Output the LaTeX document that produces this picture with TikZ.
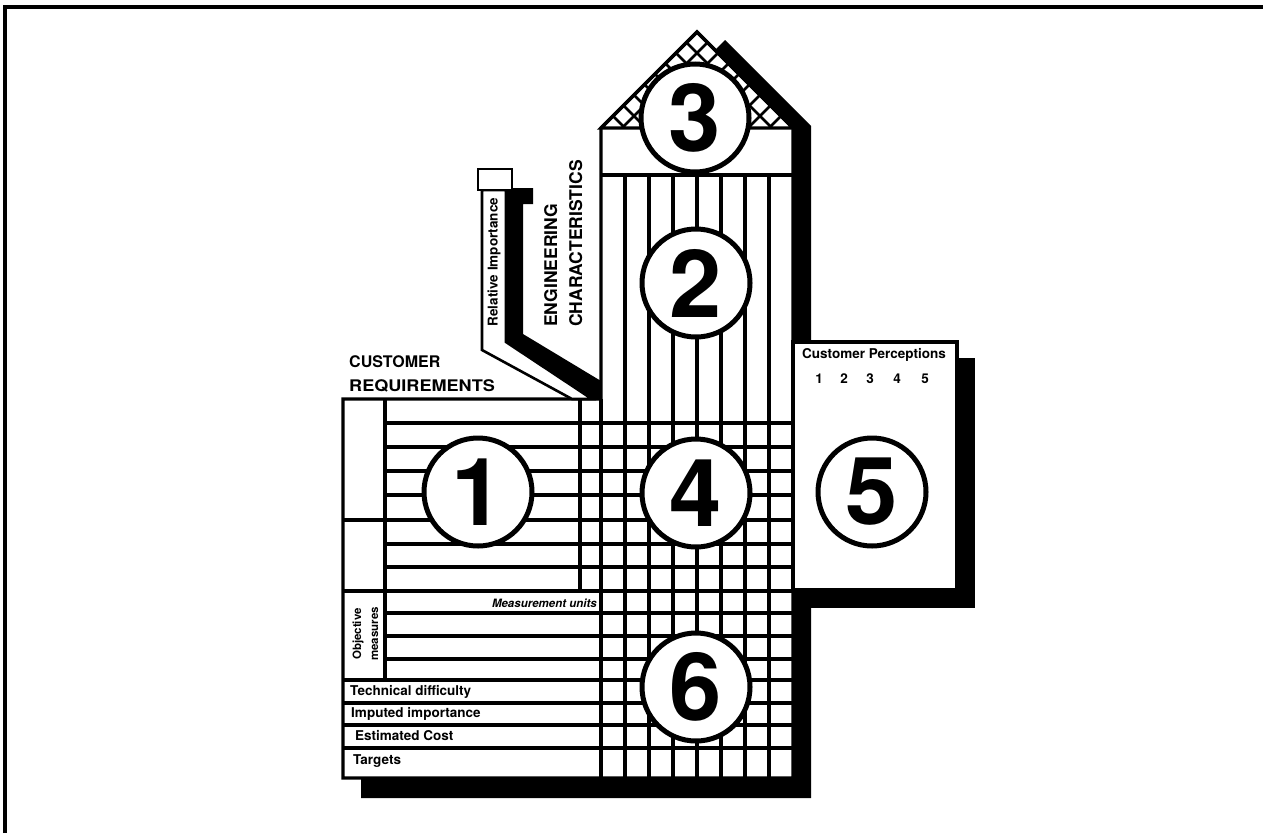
\documentclass[tikz,border=0pt]{standalone}
\usepackage{fontspec}
\setmainfont{TeX Gyre Heros}
\usetikzlibrary{calc}
\begin{document}
\begin{tikzpicture}[x=1pt,y=-1pt,
  ln/.style={line width=3.4pt},
  circ/.style={circle, draw, line width=5pt, fill=white, minimum size=108pt, inner sep=0pt,
     font=\fontsize{94}{94}\selectfont\bfseries},
  hdr/.style={inner sep=0pt, font=\fontsize{16}{18}\selectfont\bfseries},
  eng/.style={inner sep=0pt, font=\fontsize{17.5}{20}\selectfont\bfseries},
  small/.style={inner sep=0pt, font=\fontsize{13.5}{15}\selectfont\bfseries},
  tiny/.style={inner sep=0pt, font=\fontsize{11.5}{13}\selectfont\bfseries}]
\useasboundingbox (0,0) rectangle (1263,833);
% frame
\draw[line width=3.5pt] (5,833) -- (5,7) -- (1263,7);
% shadows
\fill (714,51) -- (725,40) -- (811,126) -- (811,798) -- (361,798) -- (361,770) -- (780,770) -- (780,128) -- cycle;
\fill (811,358) rectangle (975,608);
\fill (506,188) -- (533,188) -- (533,204) -- (523,204) -- (523,334) -- (601,381) -- (601,399) -- (592,399) -- (506,342) -- cycle;
% house
\filldraw[fill=white, ln] (601,399) -- (601,128) -- (697,32) -- (793,128) -- (793,778) -- (343,778) -- (343,399) -- cycle;
\begin{scope}
  \clip (601,128) -- (697,32) -- (793,128) -- cycle;
  \foreach \k in {1,...,9} {
    \draw[line width=2.6pt] ({665-21*\k+10},10) -- ({665-21*\k+150},150);
    \draw[line width=2.6pt] ({729+21*\k-10},10) -- ({729+21*\k-150},150);
  }
\end{scope}
\draw[ln, line join=miter] (601,128) -- (697,32) -- (793,128) -- cycle;
\draw[ln] (601,175) -- (793,175);
\foreach \x in {625,649,...,769} \draw[ln] (\x,175) -- (\x,778);
\draw[ln] (601,399) -- (601,778);
\draw[ln] (580,399) -- (580,591);
\draw[ln] (385,399) -- (385,680);
\foreach \y in {520,591,680,703,725,748} \draw[ln] (343,\y) -- (793,\y);
\foreach \y in {423,447,471,495,544,567,613,636,659} \draw[ln] (385,\y) -- (793,\y);
% chimney
\filldraw[fill=white, line width=2.6pt] (482,190) -- (506,190) -- (506,342) -- (592,399) -- (572,399) -- (482,350) -- cycle;
\filldraw[fill=white, line width=2.6pt] (478,169) rectangle (512,190);
% region 5
\filldraw[fill=white, ln] (793,342) rectangle (957,590);
% circles
\node[circ] (c1) at (478,492) {1};
\node[circ] (c2) at (696,283) {2};
\node[circ] (c3) at (695,118) {3};
\node[circ] (c4) at (696,493) {4};
\node[circ] (c5) at (872,492) {5};
\node[circ] (c6) at (696,687) {6};
% texts
\node[hdr, anchor=base west] (cust) at (349,367) {CUSTOMER};
\node[hdr, anchor=base west, xscale=1.13] (req) at (349,391) {REQUIREMENTS};
\node[eng, rotate=90, anchor=base west] (eng) at (557,327) {ENGINEERING};
\node[eng, rotate=90, anchor=base west] (chr) at (582,327) {CHARACTERISTICS};
\node[small, rotate=90] (relimp) at (494,262) {Relative Importance};
\node[small, anchor=base] (cp) at (874,358) {Customer Perceptions};
\foreach \x/\n in {819/1,844/2,870/3,897/4,925/5}
  \node[small, anchor=base] (p\n) at (\x,383) {\n};
\node[tiny, anchor=base east, font=\fontsize{11.5}{13}\selectfont\bfseries\itshape] (mu) at (597,607) {Measurement units};
\node[tiny, rotate=90] (obj1) at (358,634) {Objective};
\node[tiny, rotate=90] (obj2) at (375,634) {measures};
\node[small, anchor=base west] (td) at (350,695) {Technical difficulty};
\node[small, anchor=base west] (ii) at (351,717) {Imputed importance};
\node[small, anchor=base west] (ec) at (355,740) {Estimated Cost};
\node[small, anchor=base west] (tg) at (353,764) {Targets};
\end{tikzpicture}
\end{document}
